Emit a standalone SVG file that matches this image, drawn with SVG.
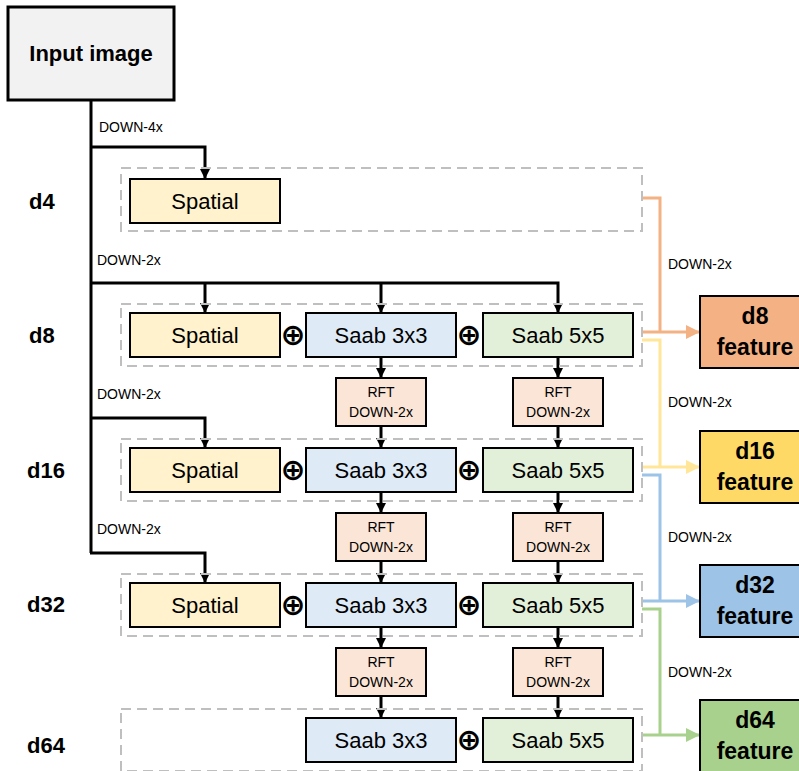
<svg xmlns="http://www.w3.org/2000/svg" width="799" height="771" viewBox="0 0 799 771">
<style>
.box{stroke:#000;stroke-width:2}
.sp{fill:#FFF2CC}.s3{fill:#DEEBF7}.s5{fill:#E2F0D9}.rft{fill:#FBE5D6}
.dash{fill:none;stroke:#BFBFBF;stroke-width:2;stroke-dasharray:10 6}
.t{font-family:"Liberation Sans",Arial,sans-serif;fill:#000}
.big{font-size:22px}
.sm{font-size:14px}
.b{font-weight:bold}
.blk{fill:none;stroke:#000;stroke-width:3}
.plus{font-family:"DejaVu Sans",sans-serif;font-weight:bold;font-size:30px}
</style>
<defs>
<marker id="ab" markerWidth="10" markerHeight="10" refX="9" refY="5" orient="auto" markerUnits="userSpaceOnUse"><path d="M0,0 L10,5 L0,10 Z" fill="#000"/></marker>
<marker id="ao" markerWidth="14" markerHeight="14" refX="13" refY="7" orient="auto" markerUnits="userSpaceOnUse"><path d="M0,0 L14,7 L0,14 Z" fill="#F4B183"/></marker>
<marker id="ay" markerWidth="14" markerHeight="14" refX="13" refY="7" orient="auto" markerUnits="userSpaceOnUse"><path d="M0,0 L14,7 L0,14 Z" fill="#FFE699"/></marker>
<marker id="abl" markerWidth="14" markerHeight="14" refX="13" refY="7" orient="auto" markerUnits="userSpaceOnUse"><path d="M0,0 L14,7 L0,14 Z" fill="#9DC3E6"/></marker>
<marker id="ag" markerWidth="14" markerHeight="14" refX="13" refY="7" orient="auto" markerUnits="userSpaceOnUse"><path d="M0,0 L14,7 L0,14 Z" fill="#A9D18E"/></marker>
</defs>
<rect width="799" height="771" fill="#fff"/>

<g id="connectors">
<path class="blk" d="M91,100 V553"/>
<path class="blk" d="M90,147 H205 V178" marker-end="url(#ab)"/>
<path class="blk" d="M90,283 H558 V312" marker-end="url(#ab)"/>
<path class="blk" d="M205,283 V312" marker-end="url(#ab)"/>
<path class="blk" d="M381,283 V312" marker-end="url(#ab)"/>
<path class="blk" d="M90,418 H205 V447" marker-end="url(#ab)"/>
<path class="blk" d="M90,553 H205 V582" marker-end="url(#ab)"/>
<path class="blk" d="M381,357 V377" marker-end="url(#ab)"/>
<path class="blk" d="M558,357 V377" marker-end="url(#ab)"/>
<path class="blk" d="M381,426 V447" marker-end="url(#ab)"/>
<path class="blk" d="M558,426 V447" marker-end="url(#ab)"/>
<path class="blk" d="M381,492 V512" marker-end="url(#ab)"/>
<path class="blk" d="M558,492 V512" marker-end="url(#ab)"/>
<path class="blk" d="M381,561 V582" marker-end="url(#ab)"/>
<path class="blk" d="M558,561 V582" marker-end="url(#ab)"/>
<path class="blk" d="M381,627 V647" marker-end="url(#ab)"/>
<path class="blk" d="M558,627 V647" marker-end="url(#ab)"/>
<path class="blk" d="M381,696 V717" marker-end="url(#ab)"/>
<path class="blk" d="M558,696 V717" marker-end="url(#ab)"/>

<path d="M642,198 H660 V332" fill="none" stroke="#F4B183" stroke-width="3"/>
<path d="M641,332 H699" fill="none" stroke="#F4B183" stroke-width="3" marker-end="url(#ao)"/>
<path d="M642,340 H660 V467" fill="none" stroke="#FFE699" stroke-width="3"/>
<path d="M641,467 H699" fill="none" stroke="#FFE699" stroke-width="3" marker-end="url(#ay)"/>
<path d="M642,475 H660 V601" fill="none" stroke="#9DC3E6" stroke-width="3"/>
<path d="M641,601 H699" fill="none" stroke="#9DC3E6" stroke-width="3" marker-end="url(#abl)"/>
<path d="M642,609 H660 V735" fill="none" stroke="#A9D18E" stroke-width="3"/>
<path d="M641,735 H699" fill="none" stroke="#A9D18E" stroke-width="3" marker-end="url(#ag)"/>
</g>

<g id="input">
<rect x="8" y="7" width="166" height="93" fill="#F2F2F2" stroke="#000" stroke-width="3"/>
<text class="t big b" x="91" y="61" text-anchor="middle">Input image</text>
</g>

<g id="labels">
<text class="t sm" x="99" y="132">DOWN-4x</text>
<text class="t sm" x="97" y="265">DOWN-2x</text>
<text class="t sm" x="97" y="399">DOWN-2x</text>
<text class="t sm" x="97" y="534">DOWN-2x</text>
<text class="t sm" x="668" y="269">DOWN-2x</text>
<text class="t sm" x="668" y="407">DOWN-2x</text>
<text class="t sm" x="668" y="542">DOWN-2x</text>
<text class="t sm" x="668" y="677">DOWN-2x</text>
<text class="t big b" x="29" y="209">d4</text>
<text class="t big b" x="29" y="343">d8</text>
<text class="t big b" x="27" y="478">d16</text>
<text class="t big b" x="27" y="612">d32</text>
<text class="t big b" x="27" y="753">d64</text>
</g>

<g id="d4">
<rect class="box sp" x="130" y="179" width="150" height="44"/>
<text class="t big" x="205" y="209" text-anchor="middle">Spatial</text>
</g>

<g id="d8">
<rect class="box sp" x="130" y="313" width="150" height="44"/>
<text class="t big" x="205" y="343" text-anchor="middle">Spatial</text>
<text class="plus" x="293" y="345" text-anchor="middle">⊕</text>
<rect class="box s3" x="306" y="313" width="150" height="44"/>
<text class="t big" x="381" y="343" text-anchor="middle">Saab 3x3</text>
<text class="plus" x="469" y="345" text-anchor="middle">⊕</text>
<rect class="box s5" x="483" y="313" width="150" height="44"/>
<text class="t big" x="558" y="343" text-anchor="middle">Saab 5x5</text>
</g>

<g id="rft1">
<rect class="box rft" x="336" y="378" width="90" height="48"/>
<text class="t sm" x="381" y="397" text-anchor="middle">RFT</text>
<text class="t sm" x="381" y="417" text-anchor="middle">DOWN-2x</text>
<rect class="box rft" x="513" y="378" width="90" height="48"/>
<text class="t sm" x="558" y="397" text-anchor="middle">RFT</text>
<text class="t sm" x="558" y="417" text-anchor="middle">DOWN-2x</text>
</g>

<g id="d16">
<rect class="box sp" x="130" y="448" width="150" height="44"/>
<text class="t big" x="205" y="478" text-anchor="middle">Spatial</text>
<text class="plus" x="293" y="480" text-anchor="middle">⊕</text>
<rect class="box s3" x="306" y="448" width="150" height="44"/>
<text class="t big" x="381" y="478" text-anchor="middle">Saab 3x3</text>
<text class="plus" x="469" y="480" text-anchor="middle">⊕</text>
<rect class="box s5" x="483" y="448" width="150" height="44"/>
<text class="t big" x="558" y="478" text-anchor="middle">Saab 5x5</text>
</g>

<g id="rft2">
<rect class="box rft" x="336" y="513" width="90" height="48"/>
<text class="t sm" x="381" y="532" text-anchor="middle">RFT</text>
<text class="t sm" x="381" y="552" text-anchor="middle">DOWN-2x</text>
<rect class="box rft" x="513" y="513" width="90" height="48"/>
<text class="t sm" x="558" y="532" text-anchor="middle">RFT</text>
<text class="t sm" x="558" y="552" text-anchor="middle">DOWN-2x</text>
</g>

<g id="d32">
<rect class="box sp" x="130" y="583" width="150" height="44"/>
<text class="t big" x="205" y="613" text-anchor="middle">Spatial</text>
<text class="plus" x="293" y="615" text-anchor="middle">⊕</text>
<rect class="box s3" x="306" y="583" width="150" height="44"/>
<text class="t big" x="381" y="613" text-anchor="middle">Saab 3x3</text>
<text class="plus" x="469" y="615" text-anchor="middle">⊕</text>
<rect class="box s5" x="483" y="583" width="150" height="44"/>
<text class="t big" x="558" y="613" text-anchor="middle">Saab 5x5</text>
</g>

<g id="rft3">
<rect class="box rft" x="336" y="648" width="90" height="48"/>
<text class="t sm" x="381" y="667" text-anchor="middle">RFT</text>
<text class="t sm" x="381" y="687" text-anchor="middle">DOWN-2x</text>
<rect class="box rft" x="513" y="648" width="90" height="48"/>
<text class="t sm" x="558" y="667" text-anchor="middle">RFT</text>
<text class="t sm" x="558" y="687" text-anchor="middle">DOWN-2x</text>
</g>

<g id="d64">
<rect class="box s3" x="306" y="718" width="150" height="44"/>
<text class="t big" x="381" y="748" text-anchor="middle">Saab 3x3</text>
<text class="plus" x="469" y="750" text-anchor="middle">⊕</text>
<rect class="box s5" x="483" y="718" width="150" height="44"/>
<text class="t big" x="558" y="748" text-anchor="middle">Saab 5x5</text>
</g>

<g id="groups">
<rect class="dash" x="121" y="168" width="521" height="63"/>
<rect class="dash" x="121" y="304" width="521" height="62"/>
<rect class="dash" x="121" y="439" width="521" height="62"/>
<rect class="dash" x="121" y="574" width="521" height="62"/>
<rect class="dash" x="121" y="709" width="521" height="62"/>
</g>

<g id="features">
<g id="f8"><rect x="700" y="296" width="110" height="72" fill="#F4B183" stroke="#000" stroke-width="2"/>
<text class="t b" font-size="23" x="755" y="324" text-anchor="middle">d8</text>
<text class="t b" font-size="23" x="755" y="355" text-anchor="middle">feature</text></g>
<g id="f16"><rect x="700" y="431" width="110" height="72" fill="#FFD966" stroke="#000" stroke-width="2"/>
<text class="t b" font-size="23" x="755" y="459" text-anchor="middle">d16</text>
<text class="t b" font-size="23" x="755" y="490" text-anchor="middle">feature</text></g>
<g id="f32"><rect x="700" y="565" width="110" height="72" fill="#9DC3E6" stroke="#000" stroke-width="2"/>
<text class="t b" font-size="23" x="755" y="593" text-anchor="middle">d32</text>
<text class="t b" font-size="23" x="755" y="624" text-anchor="middle">feature</text></g>
<g id="f64"><rect x="700" y="700" width="110" height="72" fill="#A9D18E" stroke="#000" stroke-width="2"/>
<text class="t b" font-size="23" x="755" y="728" text-anchor="middle">d64</text>
<text class="t b" font-size="23" x="755" y="759" text-anchor="middle">feature</text></g>
</g>
</svg>
